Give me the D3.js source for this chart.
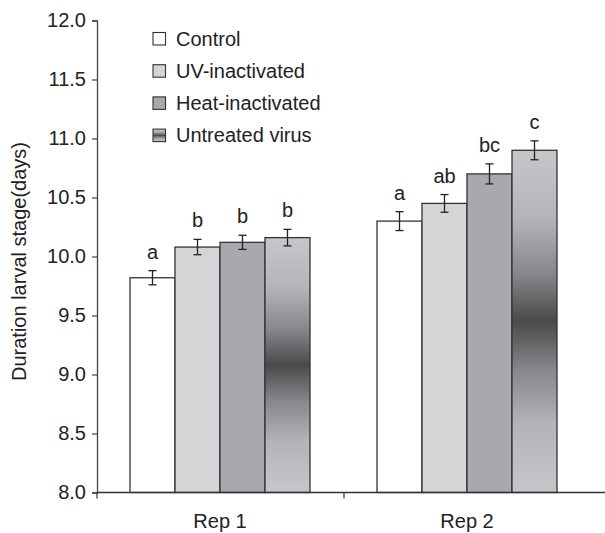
<!DOCTYPE html>
<html>
<head>
<meta charset="utf-8">
<script src="https://cdn.jsdelivr.net/npm/d3@7"></script>
<style>
  body { margin: 0; background: #fff; }
  svg { display: block; font-family: "Liberation Sans", Arial, sans-serif; }
</style>
</head>
<body>
<div id="chart"></div>
<script>
// data
const reps = ["Rep 1", "Rep 2"];
const treatments = ["Control", "UV-inactivated", "Heat-inactivated", "Untreated virus"];
const rep1Values = [9.82, 10.08, 10.12, 10.16];
const rep2Values = [10.30, 10.45, 10.70, 10.90];
const rep1Errors = [0.06, 0.065, 0.06, 0.07];
const rep2Errors = [0.08, 0.075, 0.085, 0.08];
const rep1Letters = ["a", "b", "b", "b"];
const rep2Letters = ["a", "ab", "bc", "c"];
const yTicks = [8.0, 8.5, 9.0, 9.5, 10.0, 10.5, 11.0, 11.5, 12.0];

const width = 605, height = 533;
const margin = {top: 20.5, left: 97, bottom: 40.5};
const plotRight = 591;
const fontSize = 20;

const svg = d3.select("#chart")
    .append("svg")
    .attr("width", width)
    .attr("height", height);

// gradient for untreated virus bars (light - dark - light)
const defs = svg.append("defs");
const grad = defs.append("linearGradient")
    .attr("id", "virusGrad")
    .attr("x1", 0).attr("y1", 0).attr("x2", 0).attr("y2", 1);
[[0, "#c6c7ca"], [0.2, "#b3b4b7"], [0.36, "#86878a"], [0.5, "#4a4a4c"],
 [0.64, "#86878a"], [0.8, "#b3b4b7"], [1, "#c6c7ca"]].forEach(s => {
    grad.append("stop").attr("offset", s[0]).attr("stop-color", s[1]);
});

const fills = ["#ffffff", "#d4d5d7", "#a8a9ac", "url(#virusGrad)"];

const rows = [
    {rep: reps[0], values: rep1Values, errors: rep1Errors, letters: rep1Letters},
    {rep: reps[1], values: rep2Values, errors: rep2Errors, letters: rep2Letters}
];

const y = d3.scaleLinear()
    .domain([8, 12])
    .range([height - margin.bottom, margin.top]);

const x0 = d3.scaleBand()
    .domain(reps)
    .range([margin.left, plotRight]);

const x1 = d3.scaleBand()
    .domain(treatments)
    .range([33, 33 + 180]);

// bars
const groups = svg.append("g").selectAll("g")
    .data(rows)
    .enter().append("g")
    .attr("transform", d => `translate(${x0(d.rep)},0)`);

groups.selectAll("rect")
    .data(d => d.values.map((v, i) => ({t: treatments[i], v: v, i: i})))
    .enter().append("rect")
    .attr("x", d => x1(d.t))
    .attr("y", d => y(d.v))
    .attr("width", x1.bandwidth())
    .attr("height", d => y(8) - y(d.v))
    .attr("fill", d => fills[d.i])
    .attr("stroke", "#333")
    .attr("stroke-width", 1.3);

// error bars + letters
groups.each(function(row) {
    const g = d3.select(this);
    row.values.forEach((v, i) => {
        const cx = x1(treatments[i]) + x1.bandwidth() / 2;
        const top = y(v + row.errors[i]), bot = y(v - row.errors[i]);
        g.append("line").attr("x1", cx).attr("x2", cx).attr("y1", top).attr("y2", bot)
            .attr("stroke", "#222").attr("stroke-width", 1.3);
        [top, bot].forEach(yy => {
            g.append("line").attr("x1", cx - 4).attr("x2", cx + 4).attr("y1", yy).attr("y2", yy)
                .attr("stroke", "#222").attr("stroke-width", 1.3);
        });
        g.append("text")
            .attr("x", cx)
            .attr("y", top - 12)
            .attr("text-anchor", "middle")
            .attr("font-size", fontSize)
            .attr("fill", "#222")
            .text(row.letters[i]);
    });
});

// y axis
const yAxis = svg.append("g")
    .attr("transform", `translate(${margin.left},0)`)
    .call(d3.axisLeft(y).tickValues(yTicks).tickFormat(d3.format(".1f")).tickSize(5).tickPadding(6));
yAxis.select(".domain").attr("stroke", "#444").attr("stroke-width", 1.3);
yAxis.selectAll(".tick line").attr("stroke", "#444").attr("stroke-width", 1.2);
yAxis.selectAll("text").attr("font-size", fontSize).attr("fill", "#222")
    .style("font-family", "Liberation Sans, Arial, sans-serif");

// x axis
const xLine = svg.append("g");
xLine.append("line")
    .attr("x1", margin.left).attr("x2", width)
    .attr("y1", y(8)).attr("y2", y(8))
    .attr("stroke", "#333").attr("stroke-width", 1.5);
[margin.left, x0(reps[1])].forEach(px => {
    xLine.append("line")
        .attr("x1", px).attr("x2", px)
        .attr("y1", y(8)).attr("y2", y(8) + 6)
        .attr("stroke", "#333").attr("stroke-width", 1.2);
});
xLine.selectAll("text.rep")
    .data(reps)
    .enter().append("text")
    .attr("class", "rep")
    .attr("x", d => x0(d) + 33 + 90)
    .attr("y", 528)
    .attr("text-anchor", "middle")
    .attr("font-size", fontSize)
    .attr("fill", "#222")
    .text(d => d);

// y title
svg.append("text")
    .attr("transform", `translate(26,${y(10) + 5}) rotate(-90)`)
    .attr("text-anchor", "middle")
    .attr("font-size", fontSize)
    .attr("fill", "#222")
    .text("Duration larval stage(days)");

// legend
const legend = svg.append("g").attr("transform", "translate(153,32.5)");
treatments.forEach((t, i) => {
    const row = legend.append("g").attr("transform", `translate(0,${i * 32.2})`);
    row.append("rect")
        .attr("width", 12.5).attr("height", 12.5)
        .attr("fill", fills[i])
        .attr("stroke", "#333").attr("stroke-width", 1.1);
    row.append("text")
        .attr("x", 23).attr("y", 13)
        .attr("font-size", fontSize)
        .attr("fill", "#222")
        .text(t);
});
</script>
</body>
</html>
